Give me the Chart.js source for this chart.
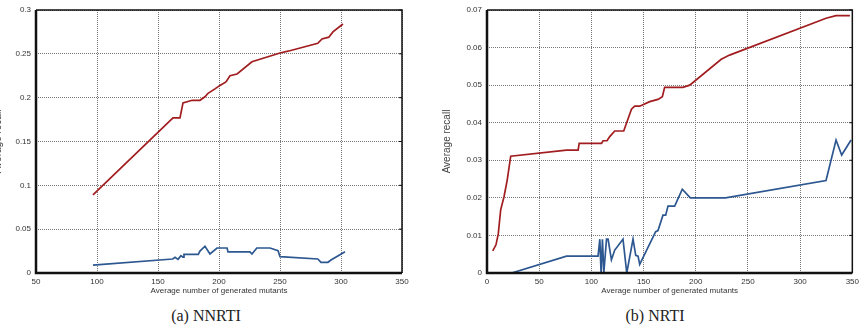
<!DOCTYPE html>
<html>
<head>
<meta charset="utf-8">
<script src="https://cdn.jsdelivr.net/npm/chart.js@4/dist/chart.umd.min.js"></script>
<style>
  html, body { margin: 0; padding: 0; background: #fff; }
  body { width: 863px; height: 328px; position: relative; overflow: hidden; }
  .box { position: absolute; top: 0; height: 300px; }
  .caption {
    position: absolute; top: 307px; font-family: 'Liberation Serif', 'DejaVu Serif', serif;
    font-size: 16px; color: #222; text-align: center; width: 200px;
  }
</style>
</head>
<body>
<div class="box" style="left:-8px;width:428px"><canvas id="nnrti"></canvas></div>
<div class="box" style="left:440px;width:423px"><canvas id="nrti"></canvas></div>
<div class="caption" style="left:106px">(a) NNRTI</div>
<div class="caption" style="left:555px">(b) NRTI</div>
<script>
// ---- data ----
const nnrtiRedX = [96.7, 162.3, 168, 170.5, 178, 184.4, 188.5, 191, 196.7, 200.8, 205.7, 209, 214.8, 227, 250, 256.5, 281, 284.4, 290, 293.4, 301.6];
const nnrtiRedY = [0.089, 0.177, 0.177, 0.194, 0.197, 0.197, 0.201, 0.205, 0.21, 0.214, 0.218, 0.225, 0.227, 0.241, 0.251, 0.253, 0.262, 0.267, 0.269, 0.275, 0.284];
const nnrtiBlueX = [96.7, 162, 164, 166.4, 168.8, 170.5, 171.3, 183, 184.4, 188.5, 192.6, 198.4, 206.6, 207.4, 225.4, 227, 231, 241.8, 248.4, 250, 281, 283.6, 289.3, 291.8, 303.3];
const nnrtiBlueY = [0.009, 0.016, 0.018, 0.0156, 0.0197, 0.018, 0.0213, 0.0213, 0.025, 0.0305, 0.0217, 0.0285, 0.0285, 0.024, 0.024, 0.0217, 0.0285, 0.0285, 0.0254, 0.0186, 0.016, 0.0122, 0.0122, 0.0148, 0.0243];

const nrtiRedX = [5.5, 8.6, 10.8, 13.1, 16.3, 19.4, 22.7, 76.2, 87.3, 88.3, 109.7, 111.2, 115, 117.6, 122.4, 131, 138.4, 141.5, 146.3, 155.9, 163.8, 168, 170.2, 187.7, 194.2, 224.4, 232.4, 324.8, 334.3, 347.7];
const nrtiRedY = [0.0059, 0.0075, 0.0104, 0.0168, 0.0203, 0.0248, 0.0311, 0.0327, 0.0327, 0.0345, 0.0345, 0.0352, 0.0352, 0.0363, 0.0378, 0.0378, 0.0436, 0.0444, 0.0444, 0.0456, 0.0462, 0.0469, 0.0494, 0.0494, 0.05, 0.0569, 0.058, 0.0678, 0.0685, 0.0685];
const nrtiBlueX = [23.6, 76.2, 106.4, 108.1, 109.3, 110.6, 111.9, 114.5, 116, 119.2, 122.4, 130.3, 131, 133.9, 139.9, 142.5, 144.7, 146.3, 161.6, 163.8, 168.6, 171.2, 173.4, 179.8, 187.1, 194.8, 228.5, 324.8, 334.4, 339.8, 348.8];
const nrtiBlueY = [0, 0.0045, 0.0045, 0.009, 0, 0.009, 0, 0.009, 0.009, 0.0035, 0.0061, 0.009, 0.009, 0, 0.009, 0.0047, 0.0045, 0.0023, 0.011, 0.0113, 0.0154, 0.0154, 0.0178, 0.0178, 0.0223, 0.02, 0.02, 0.0246, 0.0354, 0.0314, 0.0354];

const RED = '#a11d1f';
const BLUE = '#2d5791';
const xTitle = 'Average number of generated mutants';
const yTitle = 'Average recall';

function pts(xs, ys) { return xs.map((x, i) => ({ x, y: ys[i] })); }

// frame around the plot (top/right edges + inward ticks on the right)
const framePlugin = {
  id: 'frame',
  afterDatasetsDraw(chart) {
    const { ctx, chartArea: a, scales } = chart;
    ctx.save();
    ctx.strokeStyle = '#111';
    ctx.lineWidth = 1.5;
    ctx.beginPath();
    ctx.moveTo(a.left, a.top); ctx.lineTo(a.right, a.top); ctx.lineTo(a.right, a.bottom);
    ctx.stroke();
    ctx.lineWidth = 2.5;
    ctx.beginPath();
    ctx.moveTo(a.left, a.top); ctx.lineTo(a.left, a.bottom); ctx.lineTo(a.right, a.bottom);
    ctx.stroke();
    ctx.lineWidth = 1;
    scales.y.ticks.forEach(t => {
      const y = scales.y.getPixelForValue(t.value);
      ctx.beginPath(); ctx.moveTo(a.right, y); ctx.lineTo(a.right - 3, y); ctx.stroke();
    });
    ctx.restore();
  }
};

function makeChart(id, red, blue, xMin, yMax, yStep, yWidth, yTitlePad, padRight) {
  const tickFont = { family: 'Liberation Sans', size: 8 };
  new Chart(document.getElementById(id), {
    type: 'line',
    data: {
      datasets: [
        { data: red, borderColor: RED, borderWidth: 1.7, pointRadius: 0, tension: 0 },
        { data: blue, borderColor: BLUE, borderWidth: 1.7, pointRadius: 0, tension: 0 }
      ]
    },
    options: {
      responsive: true,
      maintainAspectRatio: false,
      animation: false,
      layout: { padding: { top: 10, right: padRight, bottom: 0, left: 0 } },
      plugins: { legend: { display: false }, tooltip: { enabled: false } },
      scales: {
        x: {
          type: 'linear', min: xMin, max: 350,
          ticks: { stepSize: 50, color: '#333', font: tickFont, padding: 4, maxRotation: 0 },
          grid: { color: '#777', drawTicks: false, tickLength: 0 },
          border: { display: false, dash: [1, 1] },
          title: { display: true, text: xTitle, color: '#333', font: tickFont, padding: { top: 0, bottom: 4 } },
          afterFit: s => { s.height = 27; }
        },
        y: {
          type: 'linear', min: 0, max: yMax,
          ticks: {
            stepSize: yStep, color: '#333', font: tickFont, padding: 5,
            callback: v => String(Number(v.toFixed(3)))
          },
          grid: { color: '#777', drawTicks: false, tickLength: 0 },
          border: { display: false, dash: [1, 1] },
          title: { display: true, text: yTitle, color: '#444', font: { family: 'Liberation Sans', size: 10 }, padding: { top: yTitlePad, bottom: 0 } },
          afterFit: s => { s.width = yWidth; }
        }
      }
    },
    plugins: [framePlugin]
  });
}

makeChart('nnrti', pts(nnrtiRedX, nnrtiRedY), pts(nnrtiBlueX, nnrtiBlueY), 50, 0.3, 0.05, 44, 0, 18);
makeChart('nrti', pts(nrtiRedX, nrtiRedY), pts(nrtiBlueX, nrtiBlueY), 0, 0.07, 0.01, 47, 1, 10);
</script>
</body>
</html>
